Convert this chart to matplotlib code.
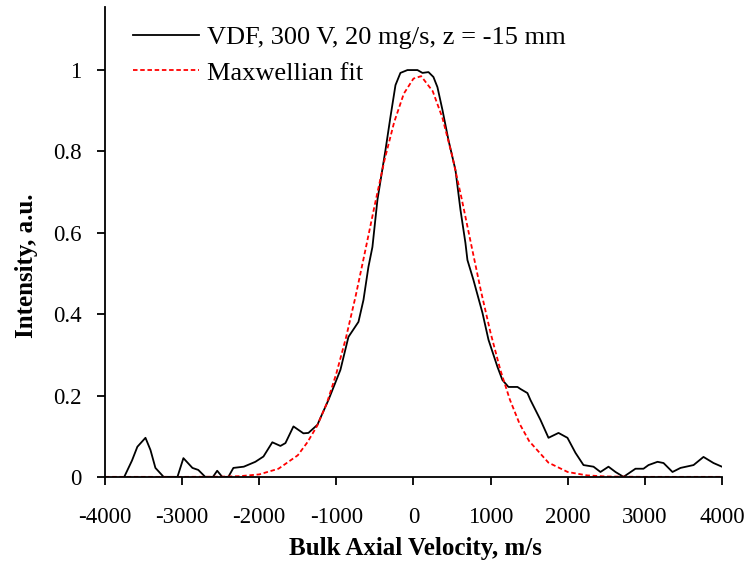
import matplotlib
matplotlib.use("Agg")
import matplotlib.pyplot as plt

vdf_v = [-3750, -3650, -3580, -3475, -3410, -3346, -3240, -3060, -2983, -2866,
         -2790, -2700, -2600, -2545, -2480, -2400, -2335, -2200, -2050, -1945,
         -1830, -1725, -1660, -1556, -1427, -1362, -1245, -1206, -1100, -947,
         -843, -713, -648, -584, -532, -467, -363, -298, -233, -169,
         -78, 52, 117, 195, 259, 311, 376, 454, 545, 610,
         674, 700, 778, 895, 973, 1090, 1154, 1232, 1349, 1388,
         1478, 1517, 1647, 1751, 1881, 1997, 2101, 2205, 2335, 2425,
         2529, 2620, 2724, 2879, 2983, 3048, 3165, 3243, 3359, 3463,
         3632, 3761, 3891, 4000]
vdf_i = [0.0, 0.04, 0.074, 0.096, 0.066, 0.022, 0.0, 0.0, 0.046, 0.022,
         0.017, 0.0, 0.0, 0.015, 0.0, 0.0, 0.022, 0.025, 0.037, 0.05,
         0.085, 0.076, 0.083, 0.124, 0.107, 0.108, 0.128, 0.145, 0.19, 0.263,
         0.344, 0.381, 0.435, 0.516, 0.565, 0.681, 0.803, 0.885, 0.963, 0.993,
         1.0, 1.0, 0.993, 0.995, 0.983, 0.958, 0.902, 0.828, 0.754, 0.656,
         0.575, 0.533, 0.484, 0.403, 0.337, 0.27, 0.238, 0.221, 0.221, 0.216,
         0.206, 0.189, 0.14, 0.096, 0.108, 0.096, 0.059, 0.029, 0.025, 0.012,
         0.025, 0.012, 0.0, 0.02, 0.02, 0.029, 0.037, 0.034, 0.012, 0.022,
         0.029, 0.049, 0.034, 0.025]

# Maxwellian fit
fit_v = [-4000, -3000, -2500, -2250, -2000, -1750, -1500, -1375, -1250, -1125,
         -1000, -875, -750, -625, -500, -375, -250, -125, 0, 100,
         250, 375, 500, 625, 750, 875, 1000, 1125, 1250, 1375,
         1500, 1750, 2000, 2250, 2500, 3000, 4000]
fit_i = [0.0, 0.0, 0.0004, 0.0017, 0.006, 0.02, 0.053, 0.085, 0.125, 0.18,
         0.254, 0.342, 0.444, 0.556, 0.67, 0.779, 0.872, 0.942, 0.979, 0.985,
         0.948, 0.883, 0.791, 0.684, 0.57, 0.457, 0.354, 0.264, 0.19, 0.131,
         0.088, 0.035, 0.012, 0.0036, 0.0009, 0.0, 0.0]

plt.rcParams['font.family'] = ['Liberation Serif', 'DejaVu Serif']
plt.rcParams['axes.unicode_minus'] = False

fig = plt.figure(figsize=(7.52, 5.65), dpi=100)
ax = fig.add_axes([0.1396, 0.156, 0.8204, 0.8316])

ax.plot(vdf_v, vdf_i, color='black', lw=1.3, label='VDF, 300 V, 20 mg/s, z = -15 mm')
ax.plot(fit_v, fit_i, color='red', lw=1.3, ls=(0, (2.5, 1.5)), label='Maxwellian fit')

ax.set_xlim(-4000, 4000)
ax.set_ylim(0, 1.155)
ax.set_xticks(range(-4000, 4001, 1000))
ax.set_yticks([0, 0.2, 0.4, 0.6, 0.8, 1])
ax.set_yticklabels(['0', '0.2', '0.4', '0.6', '0.8', '1'])
ax.spines['top'].set_visible(False)
ax.spines['right'].set_visible(False)
ax.spines['left'].set_linewidth(1.3)
ax.spines['bottom'].set_linewidth(1.3)
ax.tick_params(direction='out', length=6, width=1.3, labelsize=16.5)
ax.tick_params(axis='x', pad=16)
ax.tick_params(axis='y', pad=11)

ax.set_xlabel('Bulk Axial Velocity, m/s', fontsize=18, fontweight='bold', va='center')
ax.set_ylabel('Intensity, a.u.', fontsize=18, fontweight='bold', va='center')
ax.xaxis.set_label_coords(0.503, -0.152)
ax.yaxis.set_label_coords(-0.128, 0.449)

ax.legend(loc='upper left', bbox_to_anchor=(0.045, 0.96), frameon=False, fontsize=19,
          borderpad=0, borderaxespad=0,
          handlelength=2.5, handletextpad=0.3, labelspacing=0.45)

fig.savefig('out.png', dpi=100)
